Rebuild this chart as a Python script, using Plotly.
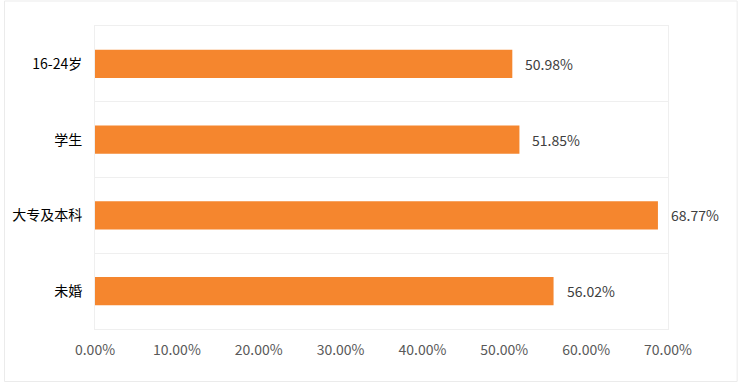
import plotly.graph_objects as go

categories = ["16-24岁", "学生", "大专及本科", "未婚"]
values = [50.98, 51.85, 68.77, 56.02]
tick_vals = [0, 10, 20, 30, 40, 50, 60, 70]
tick_text = ["0.00%", "10.00%", "20.00%", "30.00%", "40.00%", "50.00%", "60.00%", "70.00%"]

W, H = 739, 392
ml, mr, mt, mb = 92, 71, 26, 63
pw, ph = W - ml - mr, H - mt - mb

fig = go.Figure(go.Bar(
    x=values, y=categories, orientation="h",
    marker=dict(color="#F5862E", line=dict(width=0)),
    width=0.37,
    hoverinfo="x+y",
))

for c, v in zip(categories, values):
    fig.add_annotation(x=v, y=c, text=f"{v:.2f}%", showarrow=False,
                       xanchor="left", xshift=11,
                       font=dict(color="#404040", size=14, family="Noto Sans CJK SC"))

def px(x):
    return (x - ml) / pw

def py(y):
    return 1 - (y - mt) / ph

fig.update_layout(
    width=W, height=H,
    margin=dict(l=ml, r=mr, t=mt, b=mb),
    paper_bgcolor="white", plot_bgcolor="white",
    font=dict(family="Noto Sans CJK SC", size=14),
    showlegend=False,
    xaxis=dict(range=[0, 70], tickvals=tick_vals, ticktext=tick_text,
               showgrid=False, zeroline=False, showline=True, mirror=True,
               linecolor="#EFEFEF", linewidth=1, ticks="",
               tickfont=dict(color="#595959", size=14), ticklabelstandoff=8),
    yaxis=dict(autorange="reversed", showgrid=True, tickson="boundaries",
               gridcolor="#EFEFEF", gridwidth=1, showline=True, mirror=True,
               linecolor="#EFEFEF", ticks="", ticklabelstandoff=9,
               tickfont=dict(color="#000000", size=14)),
    shapes=[dict(type="rect", xref="paper", yref="paper",
                 x0=px(1), x1=px(737.5), y0=py(1), y1=py(381.5),
                 line=dict(color="#EBEBEB", width=1), layer="below")],
)

fig.write_html("out.html", config={"displayModeBar": False},
               post_script="document.body.style.margin='0';document.body.style.overflow='hidden';")
